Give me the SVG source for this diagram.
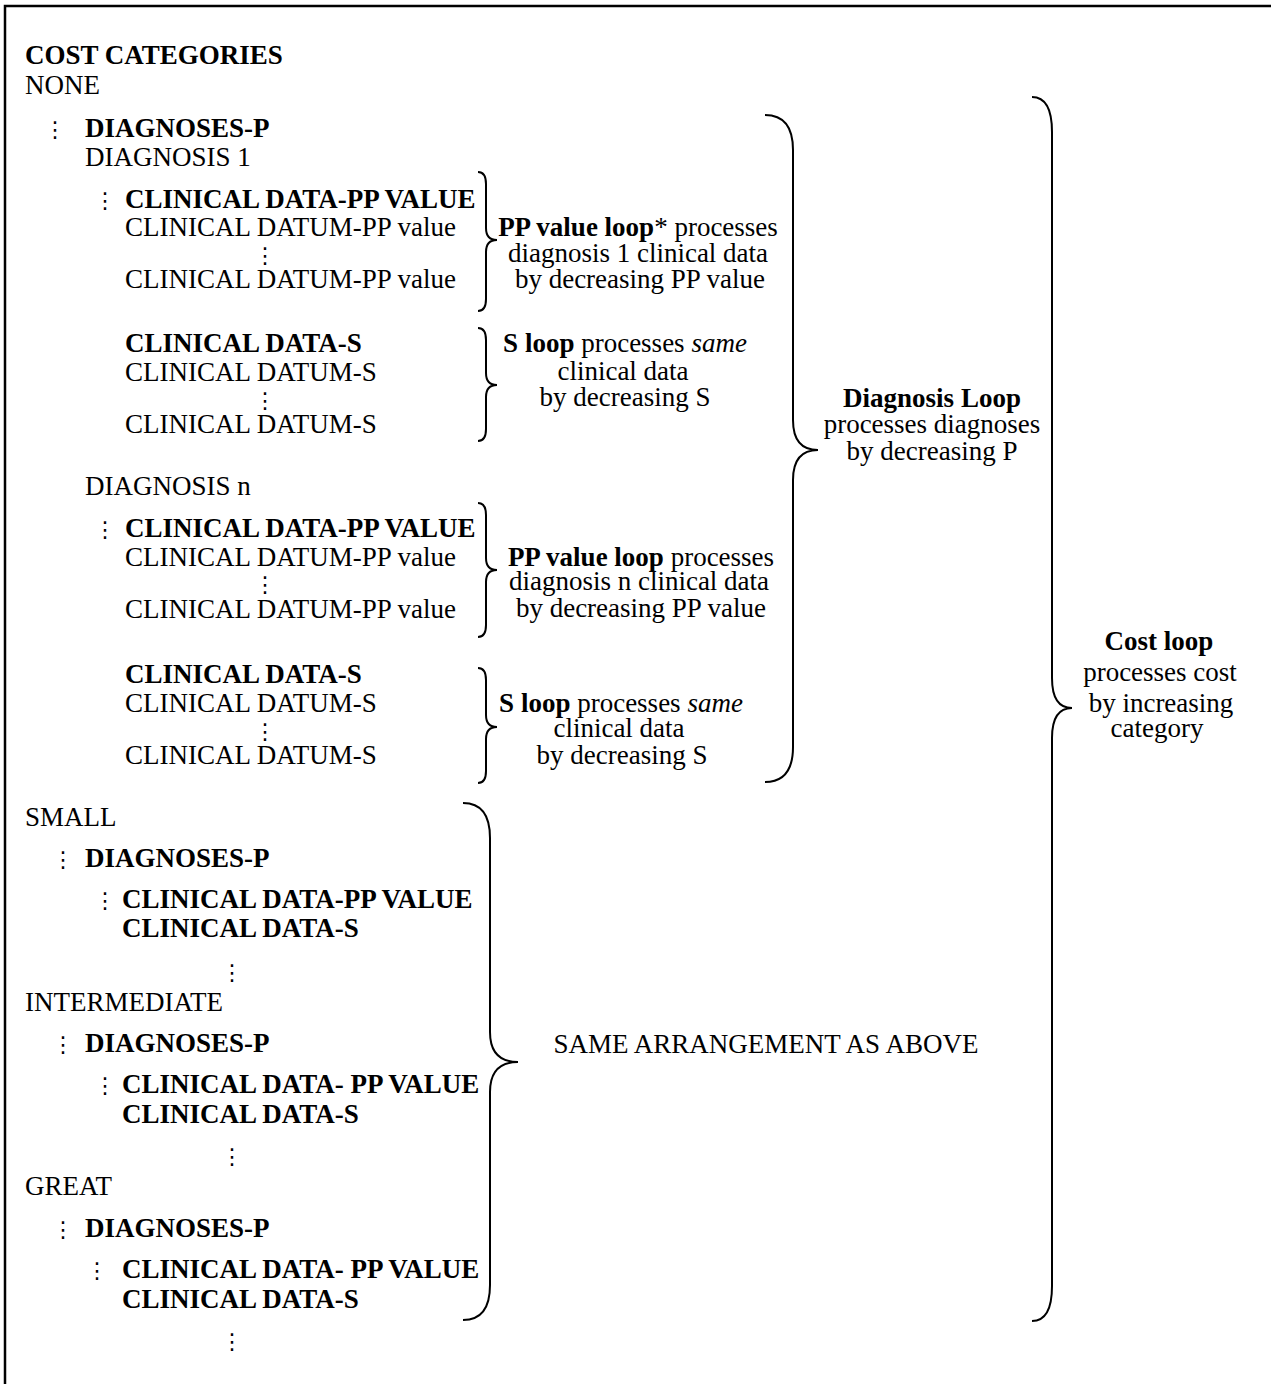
<svg xmlns="http://www.w3.org/2000/svg" width="1271" height="1384" viewBox="0 0 1271 1384">
<style>
.t{font-family:"Liberation Serif","Times New Roman",serif;font-size:27px;fill:#000}
.b{font-weight:bold}
.i{font-style:italic}
.m{text-anchor:middle}
.d{font-family:"DejaVu Sans",sans-serif;font-size:22px;text-anchor:middle;fill:#000}
.br{fill:none;stroke:#000;stroke-width:2}
.fr{fill:none;stroke:#000;stroke-width:2.5}
</style>
<rect x="0" y="0" width="1271" height="1384" fill="#fff"/>
<path class="fr" d="M5,1384 V6 H1271"/>

<g id="header">
<text class="t b" x="25" y="64">COST CATEGORIES</text>
</g>

<g id="none-category">
<text class="t" x="25" y="94">NONE</text>
<text class="d" x="55" y="137">⋮</text>
<text class="t b" x="85" y="137">DIAGNOSES-P</text>
<text class="t" x="85" y="166">DIAGNOSIS 1</text>
<text class="d" x="105" y="208">⋮</text>
<text class="t b" x="125" y="208">CLINICAL DATA-PP VALUE</text>
<text class="t" x="125" y="236">CLINICAL DATUM-PP value</text>
<text class="d" x="265" y="263">⋮</text>
<text class="t" x="125" y="288">CLINICAL DATUM-PP value</text>
<text class="t b" x="125" y="352">CLINICAL DATA-S</text>
<text class="t" x="125" y="381">CLINICAL DATUM-S</text>
<text class="d" x="265" y="408">⋮</text>
<text class="t" x="125" y="433">CLINICAL DATUM-S</text>
<text class="t" x="85" y="495">DIAGNOSIS n</text>
<text class="d" x="105" y="537">⋮</text>
<text class="t b" x="125" y="537">CLINICAL DATA-PP VALUE</text>
<text class="t" x="125" y="566">CLINICAL DATUM-PP value</text>
<text class="d" x="265" y="592">⋮</text>
<text class="t" x="125" y="618">CLINICAL DATUM-PP value</text>
<text class="t b" x="125" y="683">CLINICAL DATA-S</text>
<text class="t" x="125" y="712">CLINICAL DATUM-S</text>
<text class="d" x="265" y="739">⋮</text>
<text class="t" x="125" y="764">CLINICAL DATUM-S</text>
</g>

<g id="small-category">
<text class="t" x="25" y="826">SMALL</text>
<text class="d" x="63" y="867">⋮</text>
<text class="t b" x="85" y="867">DIAGNOSES-P</text>
<text class="d" x="105" y="908">⋮</text>
<text class="t b" x="122" y="908">CLINICAL DATA-PP VALUE</text>
<text class="t b" x="122" y="937">CLINICAL DATA-S</text>
<text class="d" x="232" y="980">⋮</text>
</g>

<g id="intermediate-category">
<text class="t" x="25" y="1011">INTERMEDIATE</text>
<text class="d" x="63" y="1052">⋮</text>
<text class="t b" x="85" y="1052">DIAGNOSES-P</text>
<text class="d" x="105" y="1093">⋮</text>
<text class="t b" x="122" y="1093">CLINICAL DATA- PP VALUE</text>
<text class="t b" x="122" y="1123">CLINICAL DATA-S</text>
<text class="d" x="232" y="1164">⋮</text>
</g>

<g id="great-category">
<text class="t" x="25" y="1195">GREAT</text>
<text class="d" x="63" y="1237">⋮</text>
<text class="t b" x="85" y="1237">DIAGNOSES-P</text>
<text class="d" x="97" y="1278">⋮</text>
<text class="t b" x="122" y="1278">CLINICAL DATA- PP VALUE</text>
<text class="t b" x="122" y="1308">CLINICAL DATA-S</text>
<text class="d" x="232" y="1349">⋮</text>
</g>

<g id="pp-loop-1">
<text class="t m" x="638" y="236"><tspan class="b">PP value loop</tspan>* processes</text>
<text class="t m" x="638" y="262">diagnosis 1 clinical data</text>
<text class="t m" x="640" y="288">by decreasing PP value</text>
</g>
<g id="s-loop-1">
<text class="t m" x="625" y="352"><tspan class="b">S loop</tspan> processes <tspan class="i">same</tspan></text>
<text class="t m" x="623" y="380">clinical data</text>
<text class="t m" x="625" y="406">by decreasing S</text>
</g>
<g id="pp-loop-n">
<text class="t m" x="641" y="566"><tspan class="b">PP value loop</tspan> processes</text>
<text class="t m" x="639" y="590">diagnosis n clinical data</text>
<text class="t m" x="641" y="617">by decreasing PP value</text>
</g>
<g id="s-loop-n">
<text class="t m" x="621" y="712"><tspan class="b">S loop</tspan> processes <tspan class="i">same</tspan></text>
<text class="t m" x="619" y="737">clinical data</text>
<text class="t m" x="622" y="764">by decreasing S</text>
</g>
<g id="diagnosis-loop">
<text class="t m b" x="932" y="407">Diagnosis Loop</text>
<text class="t m" x="932" y="433">processes diagnoses</text>
<text class="t m" x="932" y="460">by decreasing P</text>
</g>
<g id="cost-loop">
<text class="t m b" x="1159" y="650">Cost loop</text>
<text class="t m" x="1160" y="681">processes cost</text>
<text class="t m" x="1161" y="712">by increasing</text>
<text class="t m" x="1157" y="737">category</text>
</g>
<g id="same-arrangement">
<text class="t m" x="766" y="1053">SAME ARRANGEMENT AS ABOVE</text>
</g>

<g id="connectors">
<path class="br" d="M478,172 Q486,172 486,184 L486,228 Q486,240 497,240 Q486,240 486,252 L486,299 Q486,311 478,311"/>
<path class="br" d="M478,328 Q486,328 486,340 L486,373 Q486,385 497,385 Q486,385 486,397 L486,429 Q486,441 478,441"/>
<path class="br" d="M478,503 Q486,503 486,515 L486,558 Q486,570 497,570 Q486,570 486,582 L486,625 Q486,637 478,637"/>
<path class="br" d="M478,668 Q486,668 486,680 L486,715 Q486,727 497,727 Q486,727 486,739 L486,771 Q486,783 478,783"/>
<path class="br" d="M765,115 Q793,115 793,150 L793,420 Q793,450 818,450 Q793,450 793,480 L793,747 Q793,782 765,782"/>
<path class="br" d="M463,803 Q490,803 490,838 L490,1032 Q490,1062 518,1062 Q490,1062 490,1092 L490,1285 Q490,1320 463,1320"/>
<path class="br" d="M1032,97 Q1052,97 1052,132 L1052,678 Q1052,708 1072,708 Q1052,708 1052,738 L1052,1286 Q1052,1321 1032,1321"/>
</g>
</svg>
